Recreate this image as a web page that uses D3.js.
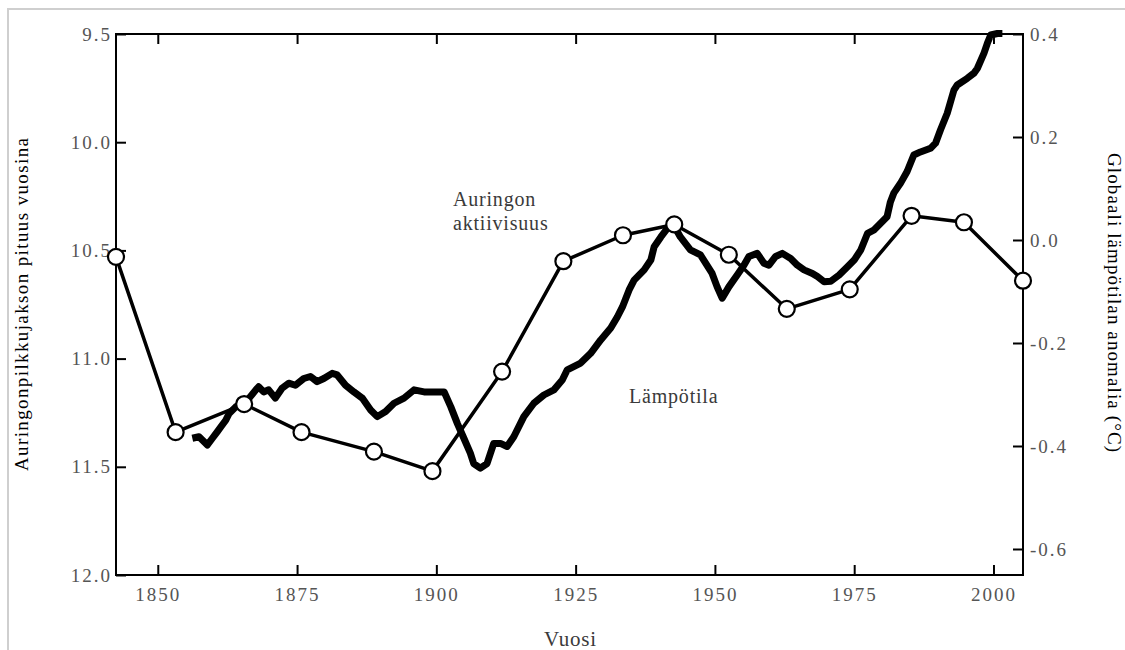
<!DOCTYPE html>
<html>
<head>
<meta charset="utf-8">
<script src="https://cdn.jsdelivr.net/npm/d3@7"></script>
<style>
  body { margin: 0; background: #fff; }
  svg { display: block; }
  svg text { font-family: 'Liberation Serif', 'DejaVu Serif', 'Times New Roman', Times, serif !important; }
</style>
</head>
<body>
<div id="chart"></div>
<script>
(function () {
  'use strict';

  // solar cycle length (years), open circles, left axis
  var solarYears = [1842.5, 1853.2, 1865.5, 1875.8, 1888.8, 1899.3, 1911.8, 1922.8,
                    1933.5, 1942.7, 1952.5, 1962.9, 1974.2, 1985.3, 1994.7, 2005.3];
  var solarCycle = [10.53, 11.34, 11.21, 11.34, 11.43, 11.52, 11.06, 10.55,
                    10.43, 10.38, 10.52, 10.77, 10.68, 10.34, 10.37, 10.64];

  // global temperature anomaly (°C), thick line, right axis
  var tempYears = [
    1856.2, 1857.4, 1858.9, 1859.8, 1860.7, 1861.3, 1862.2, 1862.8, 1864.0, 1866.1,
    1867.6, 1868.1, 1869.0, 1869.9, 1871.1, 1872.3, 1873.5, 1874.7, 1876.2, 1877.4,
    1878.6, 1879.8, 1881.3, 1882.2, 1883.7, 1885.2, 1886.7, 1888.2, 1889.4, 1890.9,
    1892.4, 1894.2, 1896.0, 1897.8, 1899.6, 1901.4, 1902.6, 1903.8, 1904.9, 1906.1,
    1906.7, 1907.9, 1909.1, 1910.3, 1911.5, 1912.7, 1913.9, 1915.7, 1917.5, 1919.3,
    1921.1, 1922.6, 1923.5, 1925.9, 1927.7, 1929.5, 1931.3, 1932.5, 1933.4, 1934.6,
    1935.5, 1937.3, 1938.5, 1939.1, 1940.3, 1941.5, 1942.6, 1943.8, 1945.6, 1947.4,
    1949.5, 1950.4, 1951.3, 1952.5, 1954.0, 1955.2, 1956.1, 1957.6, 1958.8, 1959.7,
    1960.9, 1962.1, 1963.6, 1964.8, 1966.0, 1967.5, 1968.4, 1969.6, 1970.8, 1972.3,
    1973.8, 1975.0, 1976.2, 1977.4, 1978.5, 1979.7, 1980.9, 1981.5, 1982.1, 1983.3,
    1984.5, 1985.7, 1986.9, 1988.7, 1989.6, 1990.5, 1991.7, 1992.9, 1993.5, 1995.3,
    1996.5, 1997.1, 1998.3, 1998.9, 1999.5, 2000.7, 2001.6
  ];
  var tempValues = [
    -0.385, -0.382, -0.398, -0.385, -0.372, -0.363, -0.350, -0.337, -0.324, -0.311,
    -0.291, -0.285, -0.295, -0.291, -0.307, -0.288, -0.278, -0.282, -0.269, -0.265,
    -0.275, -0.269, -0.259, -0.262, -0.282, -0.295, -0.307, -0.330, -0.343, -0.333,
    -0.317, -0.307, -0.291, -0.295, -0.295, -0.295, -0.324, -0.357, -0.384, -0.414,
    -0.434, -0.443, -0.434, -0.395, -0.395, -0.401, -0.382, -0.343, -0.317, -0.301,
    -0.291, -0.272, -0.252, -0.239, -0.220, -0.194, -0.171, -0.149, -0.130, -0.097,
    -0.078, -0.058, -0.039, -0.013, 0.006, 0.023, 0.029, 0.006, -0.019, -0.029,
    -0.065, -0.091, -0.113, -0.091, -0.068, -0.049, -0.032, -0.026, -0.045, -0.049,
    -0.032, -0.026, -0.036, -0.049, -0.058, -0.065, -0.071, -0.081, -0.080, -0.068,
    -0.052, -0.039, -0.019, 0.013, 0.019, 0.032, 0.045, 0.074, 0.091, 0.110,
    0.133, 0.165, 0.171, 0.178, 0.188, 0.214, 0.246, 0.291, 0.301, 0.314,
    0.324, 0.333, 0.363, 0.382, 0.398, 0.401, 0.401
  ];

  var yearTicks = [1850, 1875, 1900, 1925, 1950, 1975, 2000];
  var cycleTicks = [9.5, 10.0, 10.5, 11.0, 11.5, 12.0];
  var anomalyTicks = [-0.6, -0.4, -0.2, 0.0, 0.2, 0.4];

  var serif = "'Liberation Serif', 'DejaVu Serif', 'Times New Roman', Times, serif";

  var margin = {top: 34, right: 102, bottom: 75, left: 116};
  var w = 1125, h = 650;
  var width = w - margin.left - margin.right;
  var height = h - margin.top - margin.bottom;

  var svg = d3.select('#chart')
    .append('svg')
    .attr('width', w)
    .attr('height', h)
    .attr('font-family', serif);

  // light grey page frame
  svg.append('rect')
    .attr('x', 8).attr('y', 9)
    .attr('width', w).attr('height', h)
    .attr('fill', 'none')
    .attr('stroke', '#cfcfcf')
    .attr('stroke-width', 2);

  var g = svg.append('g')
    .attr('transform', 'translate(' + margin.left + ',' + margin.top + ')');

  var x = d3.scaleLinear().domain([1842.5, 2005.3]).range([0, width]);
  var yLeft = d3.scaleLinear().domain([9.5, 12.0]).range([0, height]);
  var yRight = d3.scaleLinear().domain([-0.6505, 0.4]).range([height, 0]);

  var fmt1 = function (d) { return d.toFixed(1); };

  function styleAxis(sel) {
    sel.attr('font-family', serif);
    sel.selectAll('path, line').attr('stroke', '#000').attr('stroke-width', 2);
    sel.selectAll('text')
      .attr('fill', '#555')
      .style('font-family', serif)
      .style('font-size', '19px')
      .style('letter-spacing', '2px');
  }

  g.append('g')
    .attr('transform', 'translate(0,' + height + ')')
    .call(d3.axisBottom(x).tickValues(yearTicks).tickFormat(d3.format('d'))
      .tickSizeInner(-10).tickSizeOuter(0).tickPadding(13))
    .call(styleAxis)
    .call(function (s) { s.select('.domain').remove(); });

  g.append('g')
    .call(d3.axisTop(x).tickValues(yearTicks).tickFormat('')
      .tickSizeInner(-10).tickSizeOuter(0))
    .call(styleAxis)
    .call(function (s) { s.select('.domain').remove(); });

  g.append('g')
    .call(d3.axisLeft(yLeft).tickValues(cycleTicks).tickFormat(fmt1)
      .tickSizeInner(-10).tickSizeOuter(0).tickPadding(4))
    .call(styleAxis)
    .call(function (s) { s.select('.domain').remove(); });

  g.append('g')
    .attr('transform', 'translate(' + width + ',0)')
    .call(d3.axisRight(yRight).tickValues(anomalyTicks).tickFormat(fmt1)
      .tickSizeInner(-10).tickSizeOuter(0).tickPadding(7))
    .call(styleAxis)
    .call(function (s) { s.select('.domain').remove(); });

  // plot frame
  g.append('rect')
    .attr('width', width).attr('height', height)
    .attr('fill', 'none')
    .attr('stroke', '#000')
    .attr('stroke-width', 2);

  var tempData = tempYears.map(function (yr, i) { return [yr, tempValues[i]]; });
  var solarData = solarYears.map(function (yr, i) { return [yr, solarCycle[i]]; });

  g.append('path')
    .datum(tempData)
    .attr('fill', 'none')
    .attr('stroke', '#000')
    .attr('stroke-width', 7)
    .attr('stroke-linejoin', 'round')
    .attr('d', d3.line()
      .x(function (d) { return x(d[0]); })
      .y(function (d) { return yRight(d[1]); }));

  g.append('path')
    .datum(solarData)
    .attr('fill', 'none')
    .attr('stroke', '#000')
    .attr('stroke-width', 3.5)
    .attr('stroke-linejoin', 'round')
    .attr('d', d3.line()
      .x(function (d) { return x(d[0]); })
      .y(function (d) { return yLeft(d[1]); }));

  g.selectAll('circle.solar')
    .data(solarData)
    .enter().append('circle')
    .attr('class', 'solar')
    .attr('cx', function (d) { return x(d[0]); })
    .attr('cy', function (d) { return yLeft(d[1]); })
    .attr('r', 8)
    .attr('fill', '#fff')
    .attr('stroke', '#000')
    .attr('stroke-width', 2.2);

  // series labels
  var labels = g.append('g')
    .attr('fill', '#3a3a3a')
    .style('font-family', serif)
    .style('font-size', '20px')
    .style('letter-spacing', '0.8px');
  labels.append('text').attr('x', 337).attr('y', 172).text('Auringon');
  labels.append('text').attr('x', 337).attr('y', 196).text('aktiivisuus');
  labels.append('text').attr('x', 513).attr('y', 369).text('Lämpötila');

  // axis titles
  svg.append('text')
    .attr('transform', 'translate(' + (margin.left + width / 2 + 1) + ',646)')
    .attr('text-anchor', 'middle')
    .attr('fill', '#3a3a3a')
    .style('font-size', '21px')
    .style('letter-spacing', '0.8px')
    .text('Vuosi');

  svg.append('text')
    .attr('transform', 'translate(28,' + (margin.top + height / 2) + ') rotate(-90)')
    .attr('text-anchor', 'middle')
    .attr('fill', '#000')
    .attr('textLength', 333)
    .attr('lengthAdjust', 'spacing')
    .style('font-size', '19px')
    .text('Auringonpilkkujakson pituus vuosina');

  svg.append('text')
    .attr('transform', 'translate(1108,' + (margin.top + height / 2 - 2) + ') rotate(90)')
    .attr('text-anchor', 'middle')
    .attr('fill', '#000')
    .attr('textLength', 299)
    .attr('lengthAdjust', 'spacing')
    .style('font-size', '19px')
    .text('Globaali lämpötilan anomalia (°C)');
})();
</script>
</body>
</html>
